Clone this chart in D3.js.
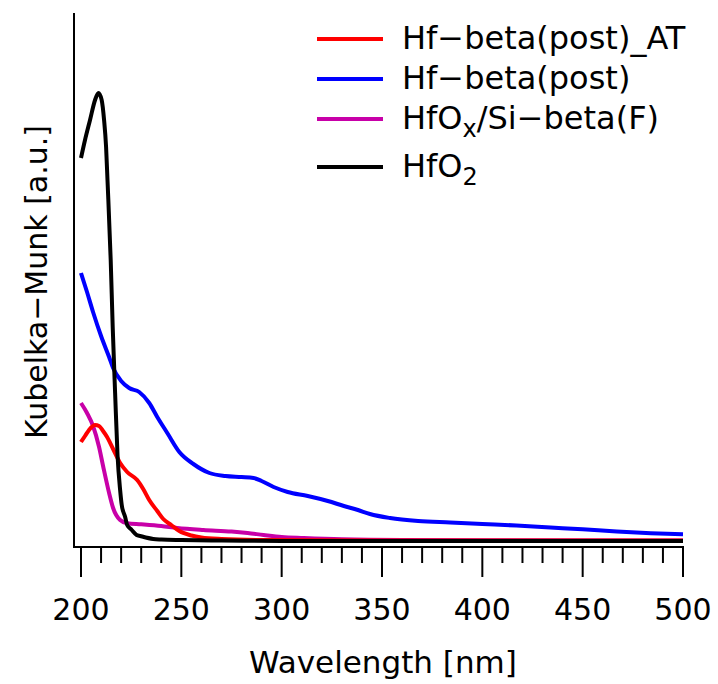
<!DOCTYPE html>
<html>
<head>
<meta charset="utf-8">
<script src="https://cdn.jsdelivr.net/npm/d3@7"></script>
<style>
  html, body { margin: 0; padding: 0; background: #fff; }
  svg text { font-family: "DejaVu Sans", "Noto Sans", sans-serif; fill: #000; }
</style>
</head>
<body>
<svg id="chart" width="718" height="684"></svg>
<script>
// ---- data (wavelength nm, Kubelka-Munk a.u.) ----
const seriesNames = ["Hf−beta(post)_AT", "Hf−beta(post)", "HfOx/Si−beta(F)", "HfO2"];
const seriesColors = ["#ff0000", "#0000ff", "#c800a8", "#000000"];

const redX = [200, 202, 204, 207, 209, 211, 213, 216, 219.5, 223, 228, 231, 234, 238, 241, 245, 249, 255, 260, 270, 290, 350, 500];
const redY = [100, 106, 112, 117, 116, 111, 105, 93, 79, 70, 62, 53, 42, 31, 23, 17, 11, 6.5, 4.5, 3, 2, 1.5, 1.5];

const blueX = [200, 203, 206, 210, 214, 216, 220, 224, 229, 234, 238, 243, 249, 256, 264, 272, 280, 286, 290, 296, 303, 313, 323, 331, 338, 344, 354, 368, 384, 400, 417, 434, 450, 467, 484, 500];
const blueY = [269, 250, 230, 206, 185, 174, 161, 154, 150, 139, 125, 109, 90, 78, 69, 66, 65, 64, 61, 55, 50, 46, 41, 36, 32, 28, 24, 21, 19.5, 18, 16.5, 14.5, 12.7, 10.5, 8.8, 7.7];

const magX = [200, 203, 206, 209, 211, 214, 216, 219.5, 223, 230, 240, 248, 261, 275, 283, 291, 300, 311, 330, 360, 500];
const magY = [139, 129, 116, 95, 76, 49, 34, 22, 18.7, 17.7, 16, 14, 12, 10.5, 9, 7, 5, 4, 2.7, 2, 1.5];

const blackX = [200, 202, 204.5, 207, 208.7, 210.3, 211.5, 212.5, 213.2, 214.8, 215.8, 217, 218.2, 219.5, 220.3, 222, 223, 225.3, 227.7, 229.5, 236, 240, 250, 270, 300, 500];
const blackY = [384, 402, 422, 442, 449, 442, 422, 395, 362, 282, 215, 149, 87, 52, 37, 25, 17, 12, 7, 6, 3, 2.5, 2, 1.5, 1, 1];

const xTicks = [200, 250, 300, 350, 400, 450, 500];

// ---- layout ----
const svg = d3.select("#chart");
const x = d3.scaleLinear().domain([200, 500]).range([81, 683]);
const y = d3.scaleLinear().domain([0, 450]).range([542, 92]);
const axisY = 547;
const axisLeft = 74;

// curves (draw order: magenta, blue, red, black)
const line = d3.line().x(d => x(d[0])).y(d => y(d[1])).curve(d3.curveMonotoneX);
const series = [
  {x: redX, y: redY, c: seriesColors[0]},
  {x: blueX, y: blueY, c: seriesColors[1]},
  {x: magX, y: magY, c: seriesColors[2]},
  {x: blackX, y: blackY, c: seriesColors[3]}
];
[2, 1, 0, 3].forEach(i => {
  const s = series[i];
  svg.append("path")
    .attr("d", line(s.x.map((v, k) => [v, s.y[k]])))
    .attr("fill", "none")
    .attr("stroke", s.c)
    .attr("stroke-width", 4)
    .attr("stroke-linejoin", "round");
});

// y axis line (no ticks)
svg.append("line")
  .attr("x1", axisLeft).attr("x2", axisLeft)
  .attr("y1", 13).attr("y2", axisY + 1)
  .attr("stroke", "#000").attr("stroke-width", 2);

// x axis
const minorTicks = d3.range(200, 501, 10);
const gx = svg.append("g").attr("transform", `translate(0,${axisY})`);
gx.append("line").attr("x1", axisLeft - 1).attr("x2", x(500) + 1).attr("y1", 0).attr("y2", 0)
  .attr("stroke", "#000").attr("stroke-width", 2);
gx.selectAll("line.tick").data(minorTicks).join("line")
  .attr("class", "tick")
  .attr("x1", d => x(d)).attr("x2", d => x(d))
  .attr("y1", 0).attr("y2", d => (d % 50 === 0 ? 30 : 16))
  .attr("stroke", "#000").attr("stroke-width", 2);
gx.selectAll("text").data(xTicks).join("text")
  .attr("x", d => x(d)).attr("y", 73)
  .attr("text-anchor", "middle")
  .attr("font-size", 30)
  .text(d => d);

// axis titles
svg.append("text")
  .attr("x", 383).attr("y", 673)
  .attr("text-anchor", "middle").attr("font-size", 31)
  .text("Wavelength [nm]");
svg.append("text")
  .attr("transform", "translate(47,282) rotate(-90)")
  .attr("text-anchor", "middle").attr("font-size", 30)
  .text("Kubelka−Munk [a.u.]");

// legend
const legY = [39, 79, 119, 167];
const leg = svg.append("g");
seriesNames.forEach((name, i) => {
  const ly = legY[i];
  leg.append("line").attr("x1", 317).attr("x2", 383).attr("y1", ly).attr("y2", ly)
    .attr("stroke", seriesColors[i]).attr("stroke-width", 4);
  const t = leg.append("text").attr("x", 402).attr("y", ly + 10).attr("font-size", 32);
  if (i === 2) {
    t.append("tspan").text("HfO");
    t.append("tspan").attr("font-size", 24).attr("dy", 8).text("x");
    t.append("tspan").attr("dy", -8).text("/Si−beta(F)");
  } else if (i === 3) {
    t.append("tspan").text("HfO");
    t.append("tspan").attr("font-size", 24).attr("dy", 8).text("2");
  } else {
    t.text(name);
  }
});
</script>
</body>
</html>
